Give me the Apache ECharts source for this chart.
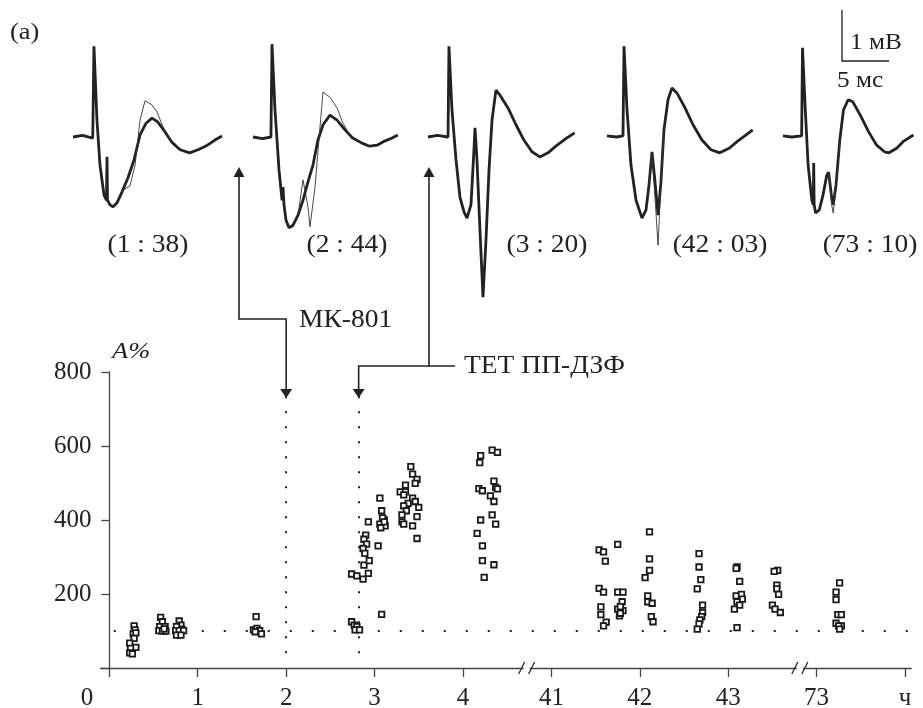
<!DOCTYPE html>
<html>
<head>
<meta charset="utf-8">
<script src="https://cdn.jsdelivr.net/npm/echarts@6/dist/echarts.min.js"></script>
<style>
  html, body { margin: 0; padding: 0; background: #fff; }
  #chart { width: 923px; height: 708px; }
</style>
</head>
<body>
<div id="chart"></div>
<script>
// --- axis ---
var xTickLabels = ['0', '1', '2', '3', '4', '41', '42', '43', '73', 'ч'] // broken time axis, hours
var yTicks = [0, 200, 400, 600, 800]
var drugTimes = [2, 2.82] // МК-801, ТЕТ ПП-ДЗФ (h)
var baseLevel = 100 // A% control level
var axisBreaks = [4.72, 7.81] // where the // marks sit (axis units)

// --- amplitude A% vs time (h) ---
var ptsA = [[0.28, 114], [0.29, 103], [0.27, 92], [0.30, 95], [0.28, 80], [0.23, 67], [0.30, 56], [0.24, 53], [0.23, 41], [0.26, 38]]
var ptsB = [[0.58, 137], [0.60, 125], [0.57, 112], [0.63, 112], [0.56, 101], [0.60, 100], [0.64, 100], [0.62, 106]]
var ptsC = [[0.79, 127], [0.81, 116], [0.76, 112], [0.82, 105], [0.75, 101], [0.79, 101], [0.84, 101], [0.76, 89], [0.81, 89]]
var ptsD = [[1.66, 139], [1.63, 103], [1.67, 107], [1.70, 101], [1.72, 92], [1.65, 98]]
var ptsMK = [[2.74, 125], [2.77, 116], [2.80, 112], [2.78, 103], [2.83, 103]]
var ptsT1 = [[2.74, 254], [2.80, 249], [2.87, 240], [2.93, 256], [2.88, 278], [2.94, 290], [2.90, 359], [2.88, 348], [2.91, 335],
  [2.87, 323], [2.89, 310], [2.93, 395], [3.04, 330], [3.08, 145], [3.06, 459], [3.08, 425], [3.11, 400], [3.09, 406],
  [3.06, 389], [3.12, 384], [3.07, 379], [3.11, 395]]
var ptsT2 = [[3.41, 544], [3.43, 524], [3.48, 510], [3.46, 499], [3.35, 494], [3.29, 476], [3.35, 476], [3.33, 468], [3.43, 459],
  [3.46, 450], [3.38, 445], [3.33, 438], [3.50, 434], [3.36, 425], [3.31, 414], [3.48, 409], [3.31, 395], [3.33, 389],
  [3.43, 384], [3.48, 350]]
var ptsT3 = [[4.33, 589], [4.39, 583], [4.20, 574], [4.19, 555], [4.35, 505], [4.37, 488], [4.39, 484], [4.18, 485], [4.22, 479],
  [4.31, 465], [4.35, 450], [4.33, 414], [4.20, 400], [4.37, 389], [4.16, 364], [4.22, 330], [4.22, 290], [4.35, 279], [4.24, 245]]
var ptsD2a = [[41.54, 319], [41.59, 314], [41.61, 289], [41.54, 215], [41.59, 205], [41.56, 165], [41.56, 144], [41.62, 124], [41.59, 114]]
var ptsD2b = [[41.75, 334], [41.75, 205], [41.81, 205], [41.80, 179], [41.75, 159], [41.81, 155], [41.78, 166], [41.77, 141], [41.78, 148]]
var ptsD2c = [[42.11, 368], [42.11, 295], [42.11, 264], [42.06, 244], [42.09, 195], [42.09, 179], [42.14, 175], [42.13, 139], [42.15, 125]]
var ptsD2d = [[42.67, 309], [42.67, 273], [42.69, 239], [42.65, 214], [42.71, 170], [42.71, 150], [42.70, 139], [42.68, 130], [42.67, 119], [42.65, 105]]
var ptsD2e = [[43.10, 273], [43.09, 269], [43.13, 234], [43.09, 195], [43.15, 199], [43.16, 186], [43.10, 179], [43.13, 170], [43.07, 159], [43.10, 109]]
var ptsD2f = [[43.56, 264], [43.52, 261], [43.55, 224], [43.55, 214], [43.57, 199], [43.50, 170], [43.53, 159], [43.59, 150]]
var ptsD4 = [[73.26, 230], [73.22, 205], [73.22, 185], [73.24, 144], [73.28, 144], [73.22, 121], [73.28, 114], [73.25, 114], [73.26, 105]]

// --- averaged population spikes: [ms, mV] ---
var traceLabels = ['(1 : 38)', '(2 : 44)', '(3 : 20)', '(42 : 03)', '(73 : 10)']
var trace1 = [[0, 0], [1, 0.03], [2.1, -0.02], [2.18, 0], [2.23, 1.78], [2.55, 0.33], [2.87, -0.55], [3.3, -1.14], [3.56, -1.24], [3.62, -0.39],
  [3.67, -1.24], [3.94, -1.33], [4.26, -1.37], [4.68, -1.29], [5.21, -1.08], [5.85, -0.8], [6.49, -0.45], [7.13, 0.04], [7.77, 0.27],
  [8.4, 0.37], [9.04, 0.29], [9.79, 0.1], [10.5, -0.1], [11.4, -0.25], [12.4, -0.31], [13.3, -0.25], [14.3, -0.16], [15.1, -0.06], [15.85, 0.02]]
var trace1b = [[5.21, -1.08], [5.64, -1.0], [6.06, -0.96], [6.6, -0.55], [7.13, 0.33], [7.66, 0.71], [8.4, 0.63], [8.94, 0.49], [9.57, 0.2], [10.5, -0.1]]
var trace2 = [[0, 0], [1, -0.03], [1.91, 0], [2.02, 1.82], [2.34, 0.53], [2.77, -0.65], [3.09, -1.24], [3.19, -0.98], [3.3, -1.33], [3.51, -1.63],
  [3.83, -1.78], [4.26, -1.73], [4.79, -1.53], [5.32, -1.24], [5.85, -0.88], [6.38, -0.55], [6.91, -0.06], [7.45, 0.24], [8.19, 0.43],
  [8.94, 0.33], [9.79, 0.14], [10.6, -0.02], [11.6, -0.12], [12.4, -0.18], [13.2, -0.16], [14.0, -0.08], [14.8, -0.02], [15.4, 0.04]]
var trace2b = [[4.79, -1.53], [5.32, -0.84], [5.85, -1.37], [6.06, -1.76], [6.6, -0.98], [7.13, 0.2], [7.45, 0.88], [8.19, 0.78],
  [8.94, 0.57], [9.57, 0.27], [10.1, 0.1], [10.6, -0.02]]
var trace3 = [[0, 0], [1, 0.03], [2.13, 0], [2.23, 1.78], [2.55, 0.53], [2.98, -0.45], [3.4, -1.18], [3.83, -1.47], [4.15, -1.59], [4.57, -1.33],
  [4.89, -0.25], [5.0, 0.18], [5.21, -0.45], [5.53, -1.83], [5.85, -3.14], [6.17, -2.02], [6.49, -0.65], [6.81, 0.33], [7.23, 0.92],
  [7.66, 0.82], [8.51, 0.57], [9.36, 0.24], [10.2, -0.06], [11.06, -0.29], [11.9, -0.39], [12.77, -0.31], [13.6, -0.18], [14.6, -0.04], [15.6, 0.08]]
var trace4 = [[0, 0.02], [1, 0.0], [1.7, 0.02], [1.81, 1.78], [2.13, 0.53], [2.55, -0.55], [3.09, -1.24], [3.72, -1.59], [4.15, -1.43],
  [4.47, -0.94], [4.79, -0.29], [5.11, -0.88], [5.43, -1.53], [5.74, -0.88], [6.06, 0.14], [6.49, 0.73], [6.91, 0.96], [7.45, 0.86],
  [8.3, 0.57], [9.15, 0.24], [10.1, -0.06], [11.06, -0.25], [12.0, -0.31], [13.0, -0.22], [13.9, -0.08], [14.8, 0.04], [15.5, 0.14]]
var trace4b = [[4.47, -0.94], [4.79, -0.35], [5.11, -1.2], [5.43, -2.12], [5.74, -0.9], [6.06, 0.14]]
var trace5 = [[0, 0.02], [1, 0.0], [2.13, 0.02], [2.23, 1.75], [2.55, 0.53], [2.87, -0.55], [3.3, -1.24], [3.46, -1.33], [3.51, -0.51],
  [3.56, -1.33], [3.72, -1.49], [4.15, -1.43], [4.57, -1.14], [5.0, -0.75], [5.21, -0.69], [5.53, -1.14], [5.74, -1.33], [6.06, -0.94],
  [6.49, -0.06], [6.91, 0.53], [7.45, 0.73], [7.98, 0.69], [8.83, 0.43], [9.79, 0.1], [10.7, -0.16], [11.6, -0.29], [12.1, -0.31],
  [13.0, -0.22], [13.8, -0.08], [14.9, 0.04]]
var trace5b = [[5.21, -0.69], [5.53, -1.3], [5.74, -1.49], [6.06, -1.0], [6.49, -0.1]]

var traces = [trace1, trace2, trace3, trace4, trace5]
var tracesThin = [trace1b, trace2b, null, trace4b, trace5b]
var traceLeft = [73, 253, 428, 607, 783]

// broken axis: hours -> axis units
function toAxis (h) {
  if (h < 10) return h
  if (h < 60) return h - 36
  return h - 65
}

var serif = "'Liberation Serif', 'DejaVu Serif', serif"
var ink = '#222'

var chart = echarts.init(document.getElementById('chart'))

var grids = [{ left: 100.5, right: 11.8, top: 372, bottom: 40, outerBoundsMode: 'none' }]
var xAxes = [{
  type: 'value',
  gridIndex: 0,
  min: -0.1,
  max: 9.07,
  axisLine: { lineStyle: { color: '#444', width: 1.3 } },
  axisTick: { customValues: [0, 1, 2, 3, 4, 5, 6, 7, 8, 9], length: 9, lineStyle: { color: '#444', width: 1.3 } },
  axisLabel: {
    customValues: [1, 2, 3, 4, 5, 6, 7, 8, 9],
    formatter: function (v) { return xTickLabels[Math.round(v)] },
    fontFamily: serif,
    fontSize: 25,
    color: ink,
    margin: 18
  },
  splitLine: { show: false }
}]
var yAxes = [{
  type: 'value',
  gridIndex: 0,
  min: yTicks[0],
  max: yTicks[yTicks.length - 1],
  interval: 200,
  axisLine: { show: true, lineStyle: { color: '#444', width: 1.3 } },
  axisTick: { show: true, length: 8, lineStyle: { color: '#444', width: 1.3 } },
  axisLabel: {
    formatter: function (v) { return v === 0 ? '' : String(v) },
    fontFamily: serif,
    fontSize: 25,
    color: ink,
    margin: 9
  },
  splitLine: { show: false }
}]

var series = []

// scatter of amplitudes
var groups = [ptsA, ptsB, ptsC, ptsD, ptsMK, ptsT1, ptsT2, ptsT3, ptsD2a, ptsD2b, ptsD2c, ptsD2d, ptsD2e, ptsD2f, ptsD4]
var allPts = []
groups.forEach(function (g) {
  g.forEach(function (p) { allPts.push([toAxis(p[0]), p[1]]) })
})
series.push({
  type: 'scatter',
  xAxisIndex: 0,
  yAxisIndex: 0,
  data: allPts,
  symbol: 'rect',
  symbolSize: 5.5,
  itemStyle: { color: '#fff', borderColor: '#1a1a1a', borderWidth: 1.8, opacity: 1 },
  z: 5,
  markLine: {
    silent: true,
    symbol: 'none',
    label: { show: false },
    animation: false,
    data: [
      [{ coord: [drugTimes[0], 40], lineStyle: { color: ink, width: 2, type: [2, 13] } }, { coord: [drugTimes[0], 735] }],
      [{ coord: [drugTimes[1], 40], lineStyle: { color: ink, width: 2, type: [2, 13] } }, { coord: [drugTimes[1], 735] }],
      [{ coord: [0.05, baseLevel], lineStyle: { color: ink, width: 2, type: [2, 20] } }, { coord: [9.05, baseLevel] }]
    ]
  }
})

// waveform panels
traces.forEach(function (tr, i) {
  grids.push({ left: traceLeft[i], top: 35, width: 150.4, height: 270.3 })
  xAxes.push({ type: 'value', gridIndex: i + 1, min: 0, max: 16, show: false })
  yAxes.push({ type: 'value', gridIndex: i + 1, min: -3.3, max: 2, show: false })
  series.push({
    type: 'line',
    xAxisIndex: i + 1,
    yAxisIndex: i + 1,
    data: tr,
    showSymbol: false,
    clip: false,
    lineStyle: { color: ink, width: 2.8 },
    z: 3
  })
  if (tracesThin[i]) {
    series.push({
      type: 'line',
      xAxisIndex: i + 1,
      yAxisIndex: i + 1,
      data: tracesThin[i],
      showSymbol: false,
      clip: false,
      lineStyle: { color: '#333', width: 0.9 },
      z: 3
    })
  }
})

chart.setOption({
  animation: false,
  backgroundColor: '#fff',
  grid: grids,
  xAxis: xAxes,
  yAxis: yAxes,
  series: series
})

// annotations (arrows, labels, axis breaks)
function px (x, y) { return chart.convertToPixel({ gridIndex: 0 }, [x, y]) }
function label (text, x, y, size, align, extra) {
  return {
    type: 'text',
    x: x,
    y: y,
    scaleX: 1.1,
    style: {
      text: text,
      x: 0,
      y: 0,
      font: (extra || '') + size + 'px ' + serif,
      fill: ink,
      textAlign: align || 'left',
      textVerticalAlign: 'middle'
    }
  }
}
var xMK = px(drugTimes[0], 0)[0]
var xTET = px(drugTimes[1], 0)[0]
var tipY = 398
var line = { stroke: ink, lineWidth: 1.6, fill: null }
var graphics = [
  label('(a)', 10, 33, 24),
  label('A%', 112, 352, 24, 'left', 'italic '),
  { type: 'text', style: { text: '0', x: 87, y: 698, font: '25px ' + serif, fill: ink, textAlign: 'center', textVerticalAlign: 'middle' } },
  // scale bar
  { type: 'polyline', shape: { points: [[842, 10], [842, 61], [889, 61]] }, style: { stroke: ink, lineWidth: 1.3, fill: null } },
  label('1 мВ', 850, 43, 23),
  label('5 мс', 837, 81, 23),
  // МК-801 connector
  { type: 'polyline', shape: { points: [[239, 175], [239, 319], [xMK, 319], [xMK, tipY - 7]] }, style: line },
  { type: 'polygon', shape: { points: [[239, 167], [233.5, 177], [244.5, 177]] }, style: { fill: ink } },
  { type: 'polygon', shape: { points: [[xMK, tipY], [xMK - 6, tipY - 9], [xMK + 6, tipY - 9]] }, style: { fill: ink } },
  label('МК-801', 299, 320, 25),
  // ТЕТ connector
  { type: 'polyline', shape: { points: [[429, 175], [429, 366]] }, style: line },
  { type: 'polyline', shape: { points: [[xTET, tipY - 7], [xTET, 366], [455, 366]] }, style: line },
  { type: 'polygon', shape: { points: [[429, 167], [423.5, 177], [434.5, 177]] }, style: { fill: ink } },
  { type: 'polygon', shape: { points: [[xTET, tipY], [xTET - 6, tipY - 9], [xTET + 6, tipY - 9]] }, style: { fill: ink } },
  label('ТЕТ ПП-ДЗФ', 464, 366, 25)
]
var labelCenters = [148, 347, 547, 720, 870]
traceLabels.forEach(function (t, i) {
  graphics.push(label(t, labelCenters[i], 245, 25, 'center'))
})
axisBreaks.forEach(function (b) {
  var p = px(b, 0)
  graphics.push({ type: 'rect', shape: { x: p[0] - 3, y: p[1] - 2, width: 6, height: 4 }, style: { fill: '#fff' }, z: 100 })
  graphics.push({ type: 'line', shape: { x1: p[0] - 8, y1: p[1] + 6, x2: p[0] - 2, y2: p[1] - 6 }, style: { stroke: ink, lineWidth: 1.3 }, z: 101 })
  graphics.push({ type: 'line', shape: { x1: p[0] + 2, y1: p[1] + 6, x2: p[0] + 8, y2: p[1] - 6 }, style: { stroke: ink, lineWidth: 1.3 }, z: 101 })
})
chart.setOption({ graphic: graphics })
</script>
</body>
</html>
